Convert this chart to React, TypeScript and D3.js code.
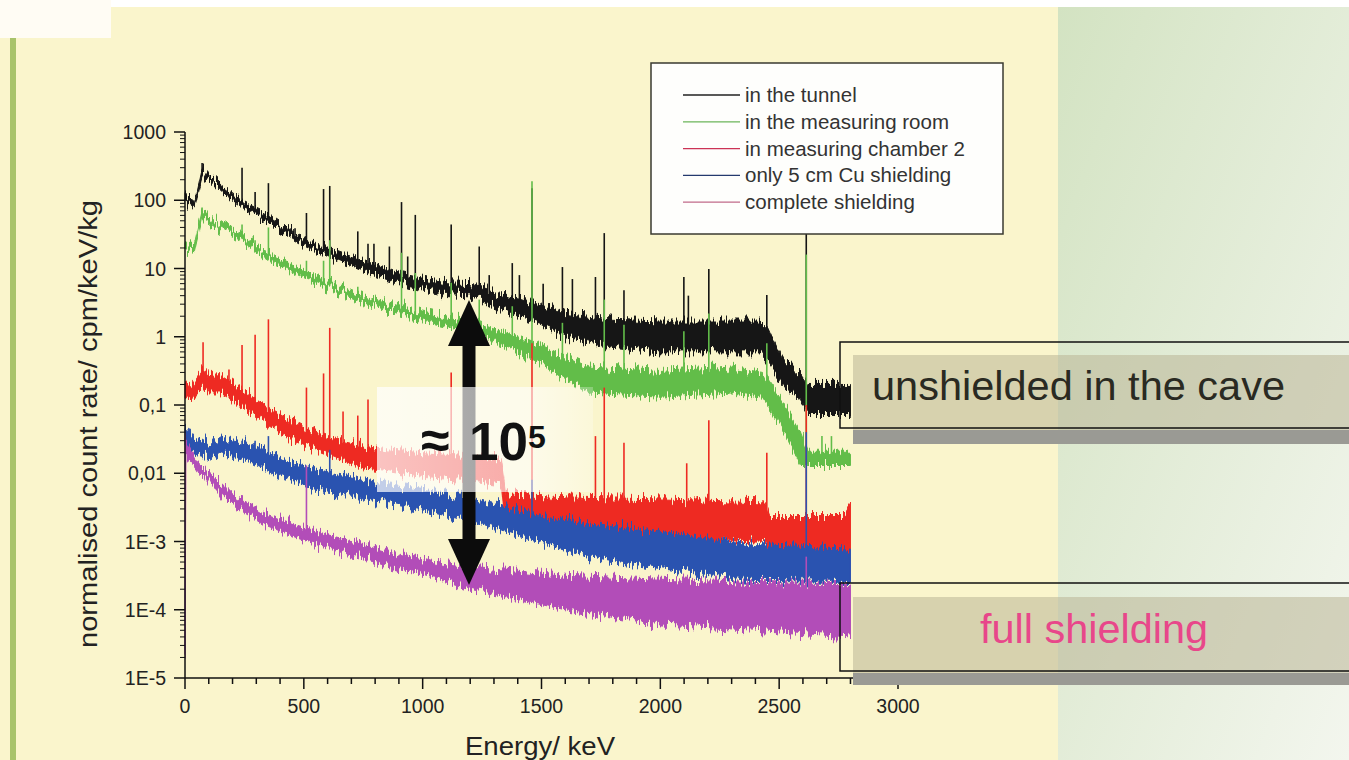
import React from "react";
import * as d3 from "d3";

const width = 1349;
const height = 760;

// axis ticks
const energyTicks = [0, 500, 1000, 1500, 2000, 2500, 3000];
const rateTicks = [1000, 100, 10, 1, 0.1, 0.01, 1e-3, 1e-4, 1e-5];
const rateLabels = ["1000", "100", "10", "1", "0,1", "0,01", "1E-3", "1E-4", "1E-5"];

const seriesNames = [
  "in the tunnel",
  "in the measuring room",
  "in measuring chamber 2",
  "only 5 cm Cu shielding",
  "complete shielding",
];
const seriesColors = ["#141414", "#62bd4a", "#ee2a22", "#2c52b0", "#b24db8"];
const legendColors = ["#222222", "#6bb55a", "#cc3355", "#243a6e", "#c06a8a"];

// continuum: [energy keV, lower edge, upper edge] in cpm/keV/kg
type Knot = [number, number, number];
type Peak = [number, number];

const tunnelBand: Knot[] = [
  [0, 95, 125], [40, 80, 95], [72, 230, 300], [100, 200, 240], [150, 140, 170],
  [200, 100, 125], [250, 75, 92], [300, 60, 74], [350, 49, 61], [400, 37, 47],
  [500, 23, 29], [600, 15.5, 20], [700, 11, 15], [800, 8.2, 11.5], [900, 6.2, 8.6],
  [1000, 5, 7.2], [1100, 4.3, 6.4], [1200, 4.1, 6.2], [1300, 2.8, 4.6], [1400, 2.0, 3.6],
  [1500, 1.5, 2.9], [1600, 1.0, 2.2], [1800, 0.7, 1.8], [2000, 0.6, 1.7], [2200, 0.6, 1.7],
  [2420, 0.6, 1.7], [2460, 0.4, 1.2], [2510, 0.2, 0.5], [2590, 0.12, 0.28], [2620, 0.075, 0.2],
  [2800, 0.075, 0.2],
];
const roomBand: Knot[] = [
  [0, 19, 24], [40, 17, 21], [72, 55, 70], [120, 42, 52], [240, 25, 31], [350, 13.5, 17],
  [460, 8.5, 10.8], [580, 5.5, 7], [720, 3.4, 4.3], [860, 2.4, 3.1], [1000, 1.7, 2.3],
  [1150, 1.3, 1.8], [1200, 1.25, 1.75], [1300, 0.85, 1.3], [1400, 0.6, 1.0], [1500, 0.4, 0.75],
  [1700, 0.15, 0.36], [2000, 0.13, 0.31], [2300, 0.15, 0.36], [2430, 0.13, 0.3], [2480, 0.07, 0.17],
  [2540, 0.03, 0.08], [2590, 0.013, 0.04], [2620, 0.013, 0.021], [2800, 0.013, 0.021],
];
const chamberBand: Knot[] = [
  [0, 0.13, 0.22], [30, 0.12, 0.2], [76, 0.18, 0.35], [100, 0.15, 0.26], [150, 0.15, 0.27],
  [250, 0.09, 0.16], [350, 0.05, 0.09], [450, 0.032, 0.058], [550, 0.022, 0.04],
  [650, 0.016, 0.03], [750, 0.012, 0.025], [850, 0.011, 0.022], [1000, 0.009, 0.02],
  [1200, 0.008, 0.018], [1330, 0.007, 0.016], [1350, 0.0015, 0.005], [1600, 0.0013, 0.0045],
  [2000, 0.0012, 0.0042], [2440, 0.001, 0.0038], [2460, 0.0008, 0.0024], [2780, 0.0008, 0.0024],
  [2800, 0.0008, 0.0032],
];
const copperBand: Knot[] = [
  [0, 0.028, 0.048], [30, 0.021, 0.034], [70, 0.019, 0.032], [105, 0.016, 0.027], [150, 0.02, 0.034],
  [270, 0.015, 0.027], [410, 0.0088, 0.016], [550, 0.006, 0.0115], [700, 0.0046, 0.0088],
  [850, 0.0035, 0.0068], [1050, 0.0026, 0.0055], [1250, 0.0018, 0.004], [1450, 0.0011, 0.0026],
  [1700, 0.0006, 0.0018], [2000, 0.0004, 0.0014], [2400, 0.00027, 0.0009], [2800, 0.00026, 0.0008],
];
const completeBand: Knot[] = [
  [0, 0.00002, 0.035], [4, 0.018, 0.03], [30, 0.014, 0.02], [65, 0.009, 0.013], [80, 0.009, 0.0115],
  [130, 0.006, 0.0085], [200, 0.0035, 0.005], [345, 0.0017, 0.0025], [480, 0.0011, 0.0017],
  [620, 0.00075, 0.0012], [770, 0.00055, 0.0009], [900, 0.0004, 0.00068], [1050, 0.0003, 0.0005],
  [1200, 0.0002, 0.00042], [1600, 0.0001, 0.00032], [2000, 0.00006, 0.00028],
  [2400, 0.00005, 0.00025], [2800, 0.00004, 0.00024],
];

// gamma lines: [energy keV, peak top]
const tunnelPeaks: Peak[] = [
  [72, 350], [240, 300], [295, 132], [351, 178], [463, 39], [511, 65], [583, 146], [609, 162],
  [727, 35], [770, 23], [795, 23], [860, 21], [911, 94], [937, 15], [969, 61], [1120, 44],
  [1238, 21], [1280, 8], [1377, 12], [1407, 8], [1460, 150], [1507, 6], [1588, 10.5], [1630, 7],
  [1727, 7.5], [1764, 33], [1847, 4.8], [2099, 7.5], [2118, 4], [2204, 9.8], [2448, 4.1], [2614, 200],
];
const roomPeaks: Peak[] = [
  [72, 78], [240, 44], [295, 26], [351, 40], [463, 9.5], [511, 13], [583, 13], [609, 26],
  [727, 5.4], [911, 17], [969, 8.6], [1120, 6.2], [1238, 3.5], [1377, 2.8], [1460, 190],
  [1588, 1.6], [1764, 3.5], [1847, 1.5], [2099, 1.2], [2204, 2.2], [2448, 0.8], [2614, 16],
  [2680, 0.035], [2720, 0.035],
];
const chamberPeaks: Peak[] = [
  [76, 0.83], [185, 0.33], [240, 0.76], [295, 1.07], [351, 1.8], [511, 0.18], [583, 0.29],
  [609, 1.35], [665, 0.08], [727, 0.07], [770, 0.12], [1120, 0.3], [1460, 0.8], [1727, 0.035],
  [1764, 0.18], [1847, 0.028], [2111, 0.014], [2204, 0.06], [2448, 0.02], [2614, 0.1],
];
const copperPeaks: Peak[] = [
  [240, 0.03], [295, 0.03], [351, 0.035], [609, 0.022], [1460, 0.008], [2614, 0.04],
];
const completePeaks: Peak[] = [[511, 0.013], [2614, 0.0006]];

const bands = [tunnelBand, roomBand, chamberBand, copperBand, completeBand];
const peaks = [tunnelPeaks, roomPeaks, chamberPeaks, copperPeaks, completePeaks];

const font = "'Liberation Sans', Arial, sans-serif";

const x = d3.scaleLinear().domain([0, 3000]).range([185, 898]);
const y = d3.scaleLog().domain([1e-5, 1000]).range([678, 132]);

const band = d3
  .area<Knot>()
  .x((d) => x(d[0]))
  .y0((d) => y(d[1]))
  .y1((d) => y(d[2]));

// middle of the band at energy e (log interpolation between knots)
const midAt = (knots: Knot[], e: number) => {
  const i = d3.bisector((d: Knot) => d[0]).right(knots, e);
  const a = knots[Math.max(0, i - 1)];
  const b = knots[Math.min(knots.length - 1, i)];
  const t = b[0] === a[0] ? 0 : (e - a[0]) / (b[0] - a[0]);
  const la = Math.log10(Math.sqrt(a[1] * a[2]));
  const lb = Math.log10(Math.sqrt(b[1] * b[2]));
  return Math.pow(10, la + t * (lb - la));
};

const minorRate = d3.range(-5, 3).flatMap((p) => d3.range(2, 10).map((k) => k * Math.pow(10, p)));
const minorEnergy = d3.range(0, 3001, 100);

export default function App() {
  return (
    <svg width={width} height={height} style={{ position: "absolute", left: 0, top: 0 }} fontFamily={font}>
      <defs>
        <linearGradient id="side" x1="0" y1="0" x2="1" y2="1">
          <stop offset="0" stopColor="#d3e3c2" />
          <stop offset="1" stopColor="#f3f6ee" />
        </linearGradient>
        <linearGradient id="glow" x1="0" y1="0" x2="1" y2="0">
          <stop offset="0" stopColor="#ffffff" stopOpacity={0.72} />
          <stop offset="0.7" stopColor="#ffffff" stopOpacity={0.6} />
          <stop offset="1" stopColor="#ffffff" stopOpacity={0.25} />
        </linearGradient>
        {/* ragged edges for the counting noise of the spectra */}
        <filter id="jitter" x="-0.02" y="-0.3" width="1.04" height="1.6">
          <feTurbulence type="fractalNoise" baseFrequency="0.55 0.015" numOctaves={2} seed={3} result="t" />
          <feColorMatrix
            in="t"
            type="matrix"
            values="0 0 0 0 0.5  0 1 0 0 0  0 0 0 0 0  0 0 0 0 1"
            result="m"
          />
          <feDisplacementMap in="SourceGraphic" in2="m" scale={22} xChannelSelector="R" yChannelSelector="G" />
        </filter>
      </defs>

      {/* slide background */}
      <rect width={width} height={height} fill="#ffffff" />
      <rect x={0} y={7} width={1058} height={753} fill="#faf5cc" />
      <rect x={0} y={0} width={111} height={38} fill="#fffcf4" />
      <rect x={10} y={38} width={6} height={722} fill="#a8c36b" />
      <rect x={1058} y={7} width={291} height={753} fill="url(#side)" />

      {/* spectra */}
      {bands.map((b, i) => (
        <g key={seriesNames[i]}>
          {peaks[i].map(([e, top]) => (
            <line
              key={e}
              x1={x(e)}
              x2={x(e)}
              y1={y(midAt(b, e))}
              y2={y(top)}
              stroke={seriesColors[i]}
              strokeWidth={1.6}
            />
          ))}
          <path
            d={band(b) ?? ""}
            fill={seriesColors[i]}
            stroke={seriesColors[i]}
            strokeWidth={1}
            filter="url(#jitter)"
          />
        </g>
      ))}

      {/* axes */}
      <g stroke="#111" strokeWidth={1.5}>
        <line x1={185} x2={185} y1={132} y2={678} />
        <line x1={185} x2={898} y1={678} y2={678} />
        {rateTicks.map((v) => (
          <line key={v} x1={174} x2={185} y1={y(v)} y2={y(v)} />
        ))}
        {minorRate.map((v) => (
          <line key={v} x1={180} x2={185} y1={y(v)} y2={y(v)} strokeWidth={1} />
        ))}
        {minorEnergy.map((e) => (
          <line key={e} x1={x(e)} x2={x(e)} y1={678} y2={e % 500 === 0 ? 689 : 684} />
        ))}
      </g>
      {rateTicks.map((v, i) => (
        <text key={v} x={166} y={y(v) + 7} textAnchor="end" fontSize={19.5} fill="#222">
          {rateLabels[i]}
        </text>
      ))}
      {energyTicks.map((e) => (
        <text key={e} x={x(e)} y={713} textAnchor="middle" fontSize={19.5} fill="#222">
          {e}
        </text>
      ))}
      <text
        transform="translate(97,424) rotate(-90)"
        textAnchor="middle"
        fontSize={26}
        fill="#222"
        textLength={448}
        lengthAdjust="spacingAndGlyphs"
      >
        normalised count rate/ cpm/keV/kg
      </text>
      <text x={465} y={755} fontSize={25} fill="#222" textLength={150} lengthAdjust="spacingAndGlyphs">
        Energy/ keV
      </text>

      {/* double arrow, half hidden by the glow */}
      <g fill="#0c0c0c">
        <rect x={462.5} y={340} width={13} height={205} />
        <path d="M469,300 L490,346 L448,346 Z" />
        <path d="M469,585 L490,539 L448,539 Z" />
      </g>
      <rect x={377} y={387} width={216} height={105} fill="url(#glow)" />
      <g fontWeight="bold" fill="#111">
        <text x={421} y={458} fontSize={52}>≈</text>
        <text x={469} y={460} fontSize={54} textLength={59} lengthAdjust="spacingAndGlyphs">10</text>
        <text x={528} y={448} fontSize={32}>5</text>
      </g>

      {/* legend */}
      <rect x={651} y={63} width={352} height={171} fill="#fefefc" stroke="#3a3a30" strokeWidth={1.5} />
      {seriesNames.map((n, i) => (
        <g key={n}>
          <line x1={683} x2={740} y1={95 + i * 26.8} y2={95 + i * 26.8} stroke={legendColors[i]} strokeWidth={1.3} />
          <text x={745} y={102 + i * 26.8} fontSize={20.5} fill="#333">
            {n}
          </text>
        </g>
      ))}

      {/* call-out boxes */}
      <rect x={853} y={430} width={520} height={14} fill="#9a9a94" />
      <rect x={853} y={355} width={520} height={75} fill="rgba(185,180,150,0.55)" />
      <rect x={840} y={342} width={540} height={86} fill="none" stroke="#111" strokeWidth={1.5} />
      <text x={872} y={400} fontSize={40} fill="#2a2a22" textLength={413} lengthAdjust="spacingAndGlyphs">
        unshielded in the cave
      </text>

      <rect x={853} y={673} width={520} height={12} fill="#9a9a94" />
      <rect x={853} y={597} width={520} height={76} fill="rgba(185,180,150,0.55)" />
      <rect x={840} y={583} width={540} height={88} fill="none" stroke="#111" strokeWidth={1.5} />
      <text x={980} y={643} fontSize={40} fill="#e8478a" textLength={228} lengthAdjust="spacingAndGlyphs">
        full shielding
      </text>
    </svg>
  );
}
